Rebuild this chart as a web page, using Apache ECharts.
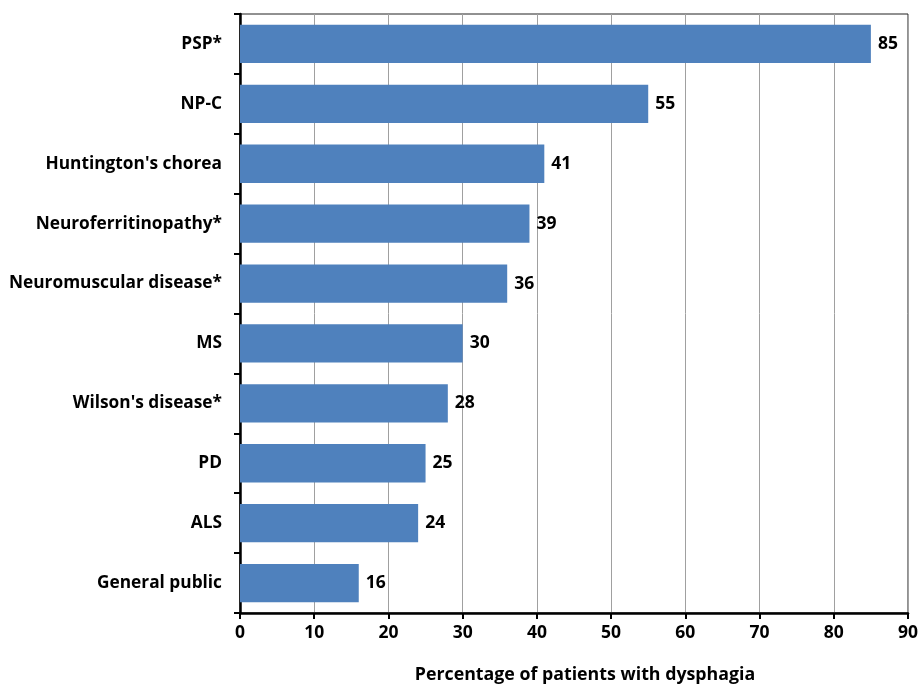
<!DOCTYPE html>
<html><head><meta charset="utf-8">
<script src="https://cdn.jsdelivr.net/npm/echarts@6/dist/echarts.min.js"></script>
<style>html,body{margin:0;padding:0;background:#fff}#c{width:921px;height:684px}</style>
</head><body><div id="c"></div>
<script>
const categories = ["PSP*","NP-C","Huntington's chorea","Neuroferritinopathy*","Neuromuscular disease*","MS","Wilson's disease*","PD","ALS","General public"];
const values = [85,55,41,39,36,30,28,25,24,16];
const xTicks = {min:0,max:90,interval:10};
const xName = "Percentage of patients with dysphagia";
const font = "'Open Sans', sans-serif";
const chart = echarts.init(document.getElementById('c'));
chart.setOption({
  animation:false,
  grid:{left:240,right:13,top:14,bottom:71,show:true,borderColor:'#222',borderWidth:1,outerBoundsMode:'none',containLabel:false},
  xAxis:{type:'value',min:xTicks.min,max:xTicks.max,interval:xTicks.interval,
    name:xName,nameLocation:'middle',nameGap:53,
    nameTextStyle:{fontFamily:font,fontWeight:'bold',fontSize:17.8,color:'#000',padding:[0,0,0,22]},
    axisLine:{show:true,lineStyle:{color:'#000',width:2.5}},
    axisTick:{show:true,length:6,lineStyle:{color:'#000',width:2}},
    axisLabel:{fontFamily:font,fontWeight:'bold',fontSize:17.5,color:'#000',margin:11},
    splitLine:{show:true,lineStyle:{color:'#a0a0a0',width:1}}},
  yAxis:{type:'category',data:categories,inverse:true,
    axisLine:{show:true,lineStyle:{color:'#000',width:2.5}},
    axisTick:{show:true,length:6,lineStyle:{color:'#000',width:2}},
    axisLabel:{fontFamily:font,fontWeight:'bold',fontSize:17.3,color:'#000',margin:18},
    splitLine:{show:false}},
  series:[{type:'bar',data:values,barCategoryGap:'36%',
    itemStyle:{color:'#4f81bd'},
    label:{show:true,position:'right',distance:7,fontFamily:font,fontWeight:'bold',fontSize:17.5,color:'#000'}}]
});
</script></body></html>
